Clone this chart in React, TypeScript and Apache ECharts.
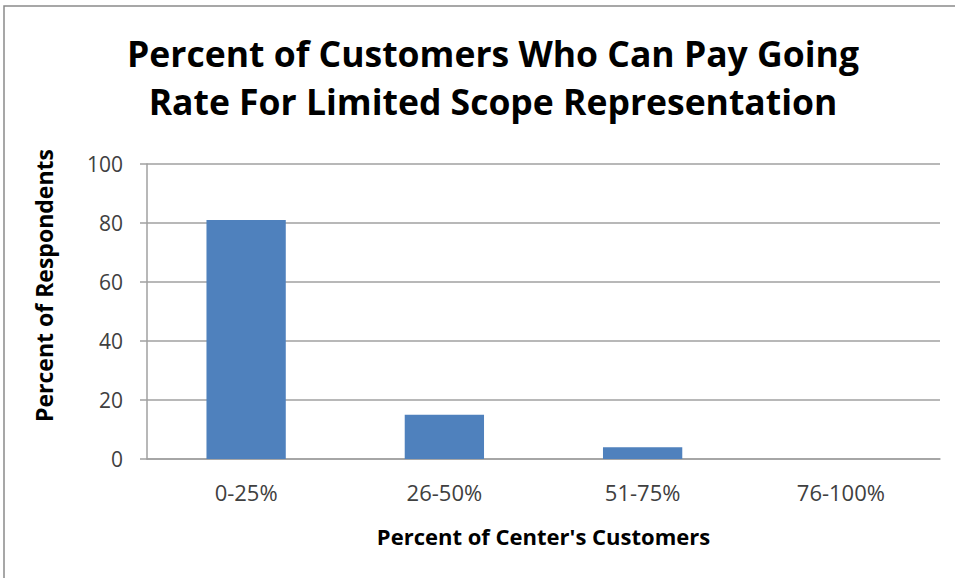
import React, { useEffect, useRef } from "react";
import * as echarts from "echarts";

const title = "Percent of Customers Who Can Pay Going\nRate For Limited Scope Representation";
const categories = ["0-25%", "26-50%", "51-75%", "76-100%"];
const values = [81, 15, 4, 0];
const yAxisName = "Percent of Respondents";
const xAxisName = "Percent of Center's Customers";

const FONT = "Open Sans";

export default function App() {
  const ref = useRef<HTMLDivElement>(null);
  useEffect(() => {
    document.body.style.margin = "0";
    const chart = echarts.init(ref.current!, null, { renderer: "svg" });
    chart.setOption({
      animation: false,
      backgroundColor: "#ffffff",
      title: {
        text: title,
        left: 488,
        textAlign: "center",
        top: 24,
        textStyle: {
          fontFamily: FONT,
          fontWeight: "bold",
          fontSize: 35.5,
          lineHeight: 48,
          color: "#000000",
        },
      },
      graphic: [
        {
          type: "rect",
          shape: { x: 4, y: 6, width: 1000, height: 1000 },
          style: { fill: "none", stroke: "#8a8a8a", lineWidth: 1.5 },
          silent: true,
        },
      ],
      grid: { left: 147, right: 15, top: 164, bottom: 119 },
      xAxis: {
        type: "category",
        data: categories,
        axisTick: { show: false },
        axisLine: { lineStyle: { color: "#a0a0a0", width: 1.5 } },
        axisLabel: { fontFamily: FONT, fontSize: 22, color: "#404040", margin: 22 },
        name: xAxisName,
        nameLocation: "middle",
        nameGap: 66,
        nameTextStyle: { fontFamily: FONT, fontWeight: "bold", fontSize: 22, color: "#000" },
      },
      yAxis: {
        type: "value",
        min: 0,
        max: 100,
        interval: 20,
        axisLine: { show: true, lineStyle: { color: "#a0a0a0", width: 1.5 } },
        axisTick: { show: true, length: 7, lineStyle: { color: "#a0a0a0", width: 1.5 } },
        splitLine: { lineStyle: { color: "#a0a0a0", width: 1.5 } },
        axisLabel: { fontFamily: FONT, fontSize: 21, color: "#404040", margin: 24 },
        name: yAxisName,
        nameLocation: "middle",
        nameGap: 92,
        nameRotate: 90,
        nameTextStyle: {
          fontFamily: FONT,
          fontWeight: "bold",
          fontSize: 23,
          color: "#000",
          padding: [0, 0, 0, 52],
        },
      },
      series: [
        {
          type: "bar",
          data: values,
          barWidth: "40%",
          itemStyle: { color: "#4F81BD" },
        },
      ],
    });
    return () => chart.dispose();
  }, []);
  return (
    <div
      ref={ref}
      style={{ position: "absolute", left: 0, top: 0, width: 955, height: 578 }}
    />
  );
}
